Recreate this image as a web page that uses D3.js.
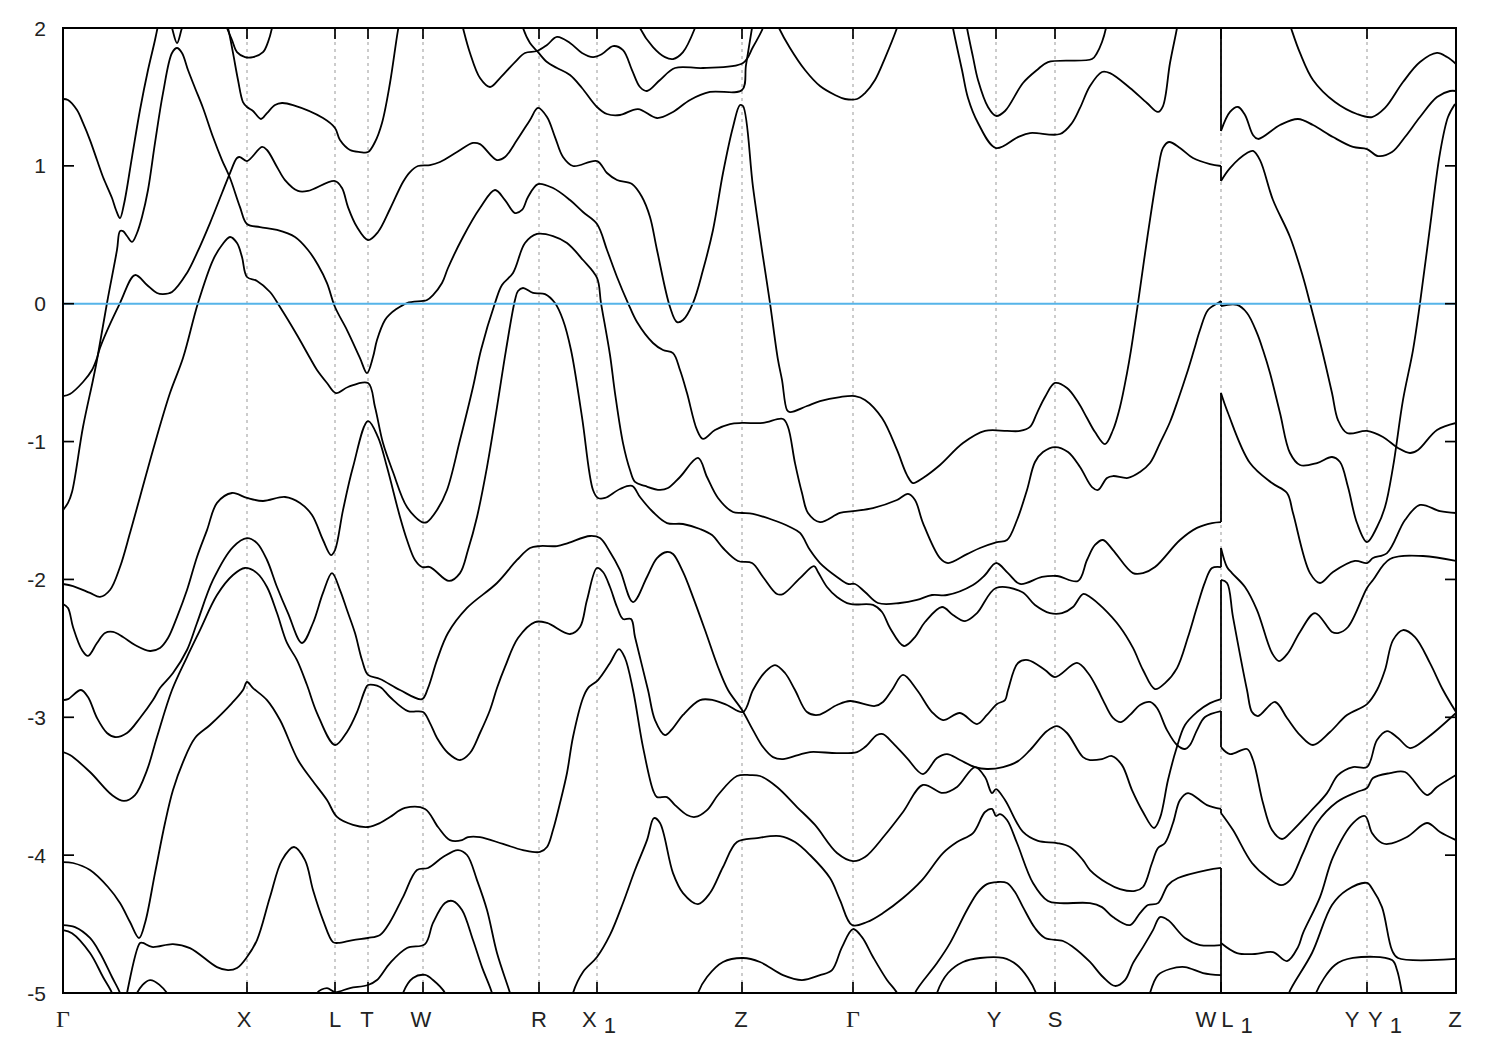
<!DOCTYPE html>
<html>
<head>
<meta charset="utf-8">
<style>html,body{margin:0;padding:0;background:#fff}svg{display:block}</style>
<script src="https://cdn.jsdelivr.net/npm/d3@7"></script>
</head>
<body>
<svg id="chart" width="1500" height="1050"></svg>
<script>
// Each band: [path position k, energy E]
const band1=[[0,1.485],[5,1.478],[14,1.405],[20,1.311],[27,1.187],[34,1.042],[40,0.919],[49,0.767],[53,0.68],[57,0.621],[61,0.723],[69,1.064],[77,1.405],[85,1.695],[92,1.913],[97,2.09]];
const band1b=[[105,2.09],[109,2],[114,1.891],[119,2],[124,2.09]];
const band2=[[0,-1.497],[5,-1.445],[9,-1.366],[20,-0.894],[30,-0.553],[34,-0.408],[44,0.005],[54,0.39],[57,0.527],[60,0.527],[64,0.491],[69,0.448],[74,0.513],[79,0.629],[85,0.825],[92,1.166],[100,1.528],[109,1.819],[114,1.855],[119,1.819],[125,1.695],[132,1.565],[140,1.42],[150,1.209],[159,1.042],[167,0.912],[177,0.701],[184,0.578],[197,0.556],[214,0.535],[232,0.484],[245,0.39],[255,0.281],[264,0.15],[272,-0.024],[284,-0.191],[297,-0.394],[304,-0.503],[310,-0.387],[314,-0.263],[322,-0.118],[327,-0.075],[332,-0.046],[344,0.005],[360,0.02],[364,0.027],[370,0.063],[379,0.15],[385,0.259],[400,0.484],[417,0.694],[432,0.825],[442,0.752],[452,0.658],[459,0.68],[465,0.774],[475,0.868],[490,0.839],[507,0.752],[520,0.665],[534,0.578],[544,0.39],[554,0.194],[565,0.005],[574,-0.133],[590,-0.285],[600,-0.336],[610,-0.358],[617,-0.481],[624,-0.648],[634,-0.916],[640,-0.981],[652,-0.916],[667,-0.873],[679,-0.865],[700,-0.865],[720,-0.836],[725,-0.894],[732,-1.156],[739,-1.373],[745,-1.518],[757,-1.584],[777,-1.518],[790,-1.504],[810,-1.482],[834,-1.424],[845,-1.38],[852,-1.424],[860,-1.591],[877,-1.845],[885,-1.881],[904,-1.816],[917,-1.772],[934,-1.729],[944,-1.714],[954,-1.569],[964,-1.351],[972,-1.148],[980,-1.076],[992,-1.04],[1005,-1.076],[1017,-1.185],[1029,-1.33],[1035,-1.351],[1044,-1.264],[1050,-1.25],[1065,-1.264],[1077,-1.221],[1087,-1.156],[1097,-1.011],[1107,-0.858],[1115,-0.698],[1124,-0.503],[1131,-0.336],[1137,-0.191],[1145,-0.046],[1155,0.005],[1158,0.02]];
const band3=[[0,-0.67],[7,-0.655],[20,-0.568],[29,-0.481],[34,-0.394],[37,-0.32],[57,0.005],[72,0.208],[84,0.136],[94,0.078],[100,0.07],[109,0.085],[124,0.223],[134,0.368],[147,0.585],[159,0.803],[167,0.948],[174,1.057],[177,1.064],[184,1.035],[199,1.137],[204,1.115],[214,0.992],[222,0.897],[235,0.818],[245,0.818],[272,0.89],[279,0.839],[285,0.701],[294,0.556],[305,0.462],[315,0.52],[327,0.687],[340,0.883],[347,0.955],[355,0.999],[367,1.006],[377,1.028],[394,1.1],[410,1.166],[417,1.158],[434,1.042],[442,1.064],[454,1.187],[467,1.333],[475,1.42],[484,1.354],[492,1.209],[500,1.064],[510,0.999],[534,1.035],[544,0.948],[554,0.897],[569,0.868],[579,0.774],[587,0.629],[594,0.39],[607,-0.024],[614,-0.133],[620,-0.118],[630,0.005],[640,0.244],[650,0.535],[660,0.948],[670,1.282],[677,1.441],[680,1.434],[690,0.846],[700,0.339],[707,0.005],[715,-0.408],[719,-0.553],[724,-0.771],[727,-0.786],[744,-0.742],[757,-0.706],[777,-0.677],[792,-0.67],[802,-0.698],[819,-0.829],[834,-1.061],[844,-1.243],[850,-1.301],[860,-1.264],[877,-1.17],[900,-1.011],[922,-0.923],[944,-0.923],[957,-0.923],[967,-0.894],[974,-0.793],[982,-0.677],[992,-0.575],[1004,-0.611],[1015,-0.713],[1024,-0.829],[1032,-0.931],[1042,-1.018],[1050,-0.916],[1057,-0.749],[1064,-0.503],[1068,-0.336],[1075,0.005],[1085,0.513],[1095,0.97],[1100,1.13],[1106,1.173],[1117,1.13],[1130,1.057],[1147,1.013],[1158,0.999]];
const band4=[[0,-2.033],[10,-2.048],[27,-2.098],[37,-2.127],[47,-2.077],[57,-1.91],[67,-1.663],[77,-1.402],[92,-1.01],[107,-0.648],[120,-0.394],[135,0.005],[150,0.317],[159,0.426],[167,0.484],[174,0.44],[179,0.339],[184,0.194],[194,0.165],[207,0.085],[217,-0.024],[234,-0.227],[247,-0.394],[254,-0.481],[264,-0.575],[273,-0.648],[285,-0.604],[305,-0.575],[312,-0.749],[320,-1.011],[330,-1.221],[344,-1.475],[359,-1.584],[364,-1.584],[374,-1.497],[384,-1.351],[397,-0.989],[410,-0.604],[418,-0.336],[432,0.005],[439,0.136],[450,0.223],[462,0.44],[474,0.506],[490,0.491],[504,0.44],[520,0.317],[534,0.187],[538,0.005],[547,-0.372],[552,-0.648],[560,-1.011],[567,-1.206],[572,-1.293],[582,-1.322],[597,-1.351],[605,-1.337],[617,-1.257],[635,-1.119],[644,-1.257],[655,-1.409],[670,-1.511],[679,-1.518],[690,-1.525],[710,-1.569],[727,-1.62],[737,-1.663],[747,-1.787],[757,-1.881],[774,-1.982],[785,-2.033],[792,-2.033],[802,-2.091],[815,-2.171],[837,-2.171],[854,-2.149],[869,-2.113],[884,-2.113],[910,-2.04],[922,-1.968],[933,-1.881],[945,-1.954],[957,-2.033],[979,-1.982],[994,-1.975],[1015,-2.011],[1024,-1.859],[1032,-1.75],[1040,-1.714],[1050,-1.787],[1070,-1.954],[1080,-1.954],[1092,-1.91],[1117,-1.714],[1134,-1.626],[1149,-1.591],[1158,-1.584]];
const band5=[[0,-2.178],[5,-2.207],[10,-2.345],[19,-2.512],[25,-2.555],[34,-2.461],[42,-2.389],[50,-2.381],[60,-2.418],[72,-2.476],[87,-2.519],[97,-2.497],[105,-2.425],[114,-2.273],[124,-2.077],[134,-1.837],[144,-1.642],[154,-1.445],[169,-1.373],[184,-1.409],[200,-1.431],[222,-1.402],[237,-1.445],[249,-1.533],[260,-1.714],[268,-1.823],[272,-1.787],[280,-1.497],[290,-1.185],[305,-0.851],[315,-0.967],[324,-1.185],[337,-1.547],[344,-1.714],[352,-1.859],[359,-1.91],[367,-1.91],[386,-2.011],[397,-1.954],[405,-1.787],[414,-1.547],[424,-1.185],[434,-0.75],[443,-0.336],[452,0.027],[455,0.092],[460,0.114],[470,0.078],[482,0.07],[492,0.005],[500,-0.118],[508,-0.336],[519,-0.822],[530,-1.351],[535,-1.409],[542,-1.409],[557,-1.344],[569,-1.322],[577,-1.402],[590,-1.511],[604,-1.591],[620,-1.598],[637,-1.634],[649,-1.678],[660,-1.772],[675,-1.866],[689,-1.881],[700,-1.982],[714,-2.106],[720,-2.106],[737,-1.99],[751,-1.903],[755,-1.946],[764,-2.055],[774,-2.127],[787,-2.178],[810,-2.185],[819,-2.236],[827,-2.352],[841,-2.483],[852,-2.418],[862,-2.309],[879,-2.2],[890,-2.258],[902,-2.302],[914,-2.244],[933,-2.062],[959,-2.091],[972,-2.185],[987,-2.244],[999,-2.244],[1010,-2.2],[1020,-2.106],[1027,-2.127],[1040,-2.207],[1057,-2.345],[1070,-2.497],[1080,-2.657],[1092,-2.795],[1102,-2.752],[1114,-2.643],[1125,-2.418],[1134,-2.2],[1142,-2.019],[1149,-1.917],[1158,-1.91]];
const band6=[[0,-2.875],[5,-2.868],[18,-2.802],[25,-2.853],[34,-3.005],[44,-3.114],[52,-3.143],[64,-3.114],[77,-3.005],[90,-2.875],[97,-2.788],[110,-2.679],[124,-2.512],[134,-2.316],[150,-2.004],[170,-1.765],[184,-1.7],[194,-1.736],[204,-1.859],[214,-2.055],[225,-2.244],[239,-2.461],[250,-2.316],[260,-2.098],[269,-1.954],[277,-2.077],[284,-2.222],[292,-2.389],[299,-2.585],[305,-2.693],[317,-2.722],[337,-2.802],[359,-2.868],[365,-2.788],[374,-2.585],[385,-2.389],[404,-2.207],[434,-2.026],[454,-1.859],[467,-1.772],[477,-1.758],[494,-1.758],[505,-1.736],[527,-1.685],[537,-1.7],[547,-1.801],[557,-1.932],[570,-2.164],[584,-1.982],[594,-1.845],[604,-1.801],[610,-1.816],[620,-1.946],[630,-2.128],[642,-2.367],[655,-2.635],[665,-2.802],[679,-2.947],[690,-3.093],[700,-3.216],[710,-3.289],[720,-3.303],[735,-3.274],[747,-3.252],[774,-3.26],[794,-3.252],[802,-3.216],[814,-3.129],[820,-3.122],[830,-3.187],[844,-3.296],[860,-3.412],[874,-3.296],[884,-3.267],[897,-3.31],[912,-3.361],[924,-3.375],[940,-3.361],[955,-3.318],[967,-3.238],[984,-3.1],[994,-3.064],[1004,-3.114],[1020,-3.289],[1027,-3.31],[1039,-3.303],[1049,-3.281],[1059,-3.347],[1069,-3.528],[1080,-3.687],[1091,-3.803],[1097,-3.73],[1105,-3.455],[1113,-3.238],[1122,-3.056],[1134,-2.962],[1147,-2.897],[1158,-2.868]];
const band7=[[0,-3.252],[7,-3.274],[27,-3.397],[49,-3.564],[61,-3.607],[72,-3.564],[84,-3.383],[94,-3.143],[109,-2.802],[124,-2.563],[137,-2.367],[154,-2.113],[170,-1.968],[182,-1.917],[194,-1.954],[204,-2.055],[214,-2.244],[224,-2.461],[234,-2.585],[244,-2.766],[254,-2.969],[272,-3.201],[284,-3.106],[294,-2.962],[302,-2.802],[305,-2.766],[317,-2.78],[327,-2.853],[345,-2.955],[360,-2.962],[367,-3.042],[374,-3.15],[385,-3.259],[397,-3.31],[407,-3.259],[417,-3.114],[427,-2.947],[434,-2.788],[442,-2.635],[455,-2.425],[472,-2.309],[484,-2.316],[507,-2.396],[517,-2.345],[524,-2.149],[534,-1.917],[540,-1.946],[547,-2.055],[554,-2.2],[560,-2.287],[568,-2.287],[572,-2.418],[585,-2.802],[592,-3.02],[602,-3.129],[610,-3.078],[620,-2.983],[637,-2.875],[650,-2.875],[664,-2.911],[680,-2.962],[690,-2.802],[702,-2.672],[712,-2.621],[722,-2.679],[732,-2.802],[744,-2.962],[755,-2.983],[774,-2.911],[787,-2.882],[812,-2.918],[820,-2.889],[829,-2.802],[840,-2.693],[854,-2.802],[869,-2.962],[880,-3.02],[897,-2.969],[914,-3.049],[924,-2.983],[934,-2.904],[942,-2.875],[945,-2.802],[955,-2.606],[965,-2.585],[982,-2.657],[992,-2.708],[1014,-2.606],[1025,-2.679],[1035,-2.802],[1040,-2.875],[1050,-3.005],[1058,-3.035],[1067,-2.983],[1077,-2.911],[1087,-2.889],[1094,-2.933],[1104,-3.093],[1114,-3.201],[1122,-3.23],[1127,-3.201],[1134,-3.093],[1142,-2.998],[1158,-2.955]];
const band8=[[0,-4.05],[10,-4.057],[27,-4.108],[45,-4.231],[57,-4.347],[67,-4.485],[76,-4.601],[82,-4.492],[92,-4.13],[102,-3.767],[110,-3.528],[120,-3.325],[132,-3.15],[147,-3.056],[169,-2.897],[180,-2.802],[184,-2.744],[190,-2.788],[204,-2.875],[217,-3.02],[235,-3.31],[249,-3.455],[264,-3.6],[274,-3.723],[290,-3.781],[305,-3.796],[317,-3.767],[327,-3.723],[342,-3.658],[362,-3.665],[375,-3.796],[387,-3.891],[399,-3.891],[405,-3.869],[417,-3.869],[440,-3.919],[460,-3.963],[477,-3.977],[484,-3.941],[490,-3.818],[497,-3.622],[504,-3.404],[510,-3.143],[520,-2.86],[525,-2.788],[535,-2.73],[547,-2.606],[556,-2.505],[562,-2.57],[570,-2.802],[580,-3.216],[590,-3.528],[594,-3.579],[604,-3.579],[612,-3.637],[624,-3.709],[632,-3.723],[644,-3.673],[655,-3.564],[674,-3.426],[687,-3.419],[697,-3.426],[714,-3.506],[734,-3.651],[752,-3.781],[774,-3.984],[790,-4.043],[802,-4.014],[822,-3.854],[840,-3.687],[860,-3.491],[880,-3.549],[894,-3.506],[912,-3.361],[922,-3.434],[929,-3.55],[933,-3.521],[942,-3.6],[960,-3.832],[975,-3.897],[994,-3.912],[1007,-3.941],[1020,-4.036],[1027,-4.108],[1044,-4.202],[1057,-4.246],[1072,-4.26],[1080,-4.231],[1089,-4.057],[1095,-3.948],[1102,-3.912],[1110,-3.767],[1117,-3.6],[1125,-3.55],[1144,-3.637],[1158,-3.665]];
const band9=[[0,-4.507],[12,-4.522],[27,-4.601],[37,-4.71],[49,-4.884],[57,-5],[60,-5.08]];
const band10=[[0,-4.544],[9,-4.566],[27,-4.71],[40,-4.884],[49,-5],[52,-5.08]];
const band11=[[62,-5.08],[64,-5],[77,-4.637],[80,-4.637],[89,-4.666],[110,-4.645],[127,-4.674],[154,-4.812],[165,-4.834],[174,-4.819],[184,-4.739],[194,-4.616],[207,-4.304],[219,-4.036],[231,-3.941],[242,-4.036],[250,-4.253],[260,-4.471],[270,-4.631],[275,-4.637],[290,-4.616],[305,-4.601],[317,-4.579],[327,-4.485],[340,-4.304],[354,-4.108],[365,-4.093],[380,-4.014],[395,-3.963],[404,-3.999],[414,-4.181],[424,-4.398],[434,-4.71],[447,-5],[450,-5.08]];
const band12=[[252,-5.08],[254,-5],[264,-4.964],[272,-4.993],[287,-4.964],[305,-4.942],[314,-4.906],[327,-4.783],[344,-4.674],[362,-4.645],[370,-4.492],[382,-4.347],[390,-4.333],[399,-4.398],[410,-4.616],[419,-4.812],[429,-5],[431,-5.08]];
const band12b=[[338,-5.08],[340,-5],[350,-4.891],[362,-4.869],[370,-4.906],[382,-5],[385,-5.08]];
const band12c=[[72,-5.08],[74,-5],[87,-4.906],[104,-5],[107,-5.08]];
const band13=[[508,-5.08],[510,-5],[520,-4.848],[534,-4.739],[547,-4.579],[560,-4.347],[572,-4.108],[584,-3.891],[591,-3.731],[597,-3.767],[610,-4.13],[620,-4.275],[635,-4.355],[647,-4.275],[660,-4.086],[674,-3.905],[694,-3.876],[717,-3.862],[732,-3.905],[747,-3.999],[767,-4.166],[777,-4.326],[789,-4.507],[804,-4.485],[820,-4.42],[840,-4.311],[859,-4.181],[880,-3.985],[894,-3.905],[910,-3.84],[922,-3.687],[929,-3.665],[933,-3.716],[937,-3.702],[944,-3.745],[954,-3.912],[970,-4.202],[985,-4.333],[997,-4.348],[1027,-4.348],[1039,-4.377],[1050,-4.449],[1067,-4.507],[1077,-4.42],[1085,-4.362],[1095,-4.348],[1105,-4.217],[1115,-4.166],[1144,-4.108],[1158,-4.093]];
const band14=[[633,-5.08],[635,-5],[644,-4.884],[660,-4.775],[680,-4.746],[697,-4.775],[720,-4.87],[739,-4.906],[757,-4.87],[769,-4.834],[779,-4.667],[790,-4.536],[799,-4.595],[810,-4.739],[824,-4.906],[834,-5],[837,-5.08]];
const band15=[[850,-5.08],[852,-5],[874,-4.783],[887,-4.638],[904,-4.398],[915,-4.268],[924,-4.21],[934,-4.195],[944,-4.202],[952,-4.268],[960,-4.377],[972,-4.529],[982,-4.601],[1000,-4.623],[1010,-4.666],[1027,-4.775],[1040,-4.884],[1052,-4.949],[1062,-4.906],[1070,-4.783],[1080,-4.667],[1090,-4.544],[1097,-4.449],[1105,-4.471],[1122,-4.601],[1137,-4.652],[1158,-4.652]];
const band16=[[872,-5.08],[874,-5],[885,-4.855],[900,-4.775],[917,-4.746],[940,-4.746],[954,-4.797],[965,-4.891],[973,-5],[976,-5.08]];
const band17=[[1085,-5.08],[1087,-5],[1095,-4.87],[1107,-4.826],[1122,-4.812],[1140,-4.855],[1158,-4.87]];
const top1=[[161,2.09],[165,2],[170,1.819],[175,1.623],[180,1.463],[184,1.427],[190,1.398],[198,1.34],[204,1.383],[212,1.441],[219,1.456],[230,1.441],[260,1.347],[272,1.275],[277,1.187],[287,1.115],[297,1.1],[305,1.1],[312,1.173],[319,1.311],[327,1.601],[335,1.985],[338,2.09]];
const top2=[[160,2.09],[164,2],[169,1.913],[174,1.825],[182,1.789],[190,1.789],[200,1.825],[205,1.898],[209,2],[211,2.09]];
const top3=[[457,2.09],[460,2],[467,1.891],[475,1.825],[484,1.753],[494,1.71],[507,1.659],[519,1.565],[534,1.427],[544,1.376],[557,1.369],[575,1.412],[594,1.347],[610,1.391],[627,1.478],[647,1.536],[679,1.55],[683,1.731],[689,2],[691,2.09]];
const top4=[[397,2.09],[400,2],[407,1.819],[417,1.637],[427,1.572],[437,1.637],[452,1.753],[462,1.819],[474,1.833],[484,1.877],[494,1.935],[507,1.891],[519,1.819],[530,1.789],[539,1.811],[550,1.869],[560,1.84],[569,1.695],[577,1.572],[584,1.543],[597,1.623],[612,1.71],[640,1.71],[680,1.746],[690,1.862],[700,2],[704,2.09]];
const top5=[[573,2.09],[577,2],[590,1.862],[602,1.789],[610,1.775],[620,1.825],[632,2],[636,2.09]];
const top6=[[711,2.09],[716,2],[727,1.855],[742,1.695],[757,1.579],[772,1.514],[782,1.485],[794,1.485],[802,1.528],[812,1.623],[822,1.782],[834,2],[838,2.09]];
const top7=[[888,2.09],[890,2],[899,1.695],[905,1.492],[915,1.311],[933,1.129],[955,1.209],[967,1.238],[997,1.231],[1009,1.311],[1017,1.42],[1027,1.579],[1039,1.681],[1047,1.673],[1067,1.565],[1084,1.456],[1095,1.391],[1100,1.434],[1107,1.746],[1114,2],[1116,2.09]];
const top8=[[902,2.09],[904,2],[910,1.789],[915,1.623],[925,1.427],[933,1.362],[942,1.398],[960,1.601],[974,1.695],[985,1.753],[1029,1.775],[1034,1.819],[1039,1.898],[1043,2],[1045,2.09]];
const right1=[[1158,1.253],[1167,1.391],[1175,1.427],[1182,1.369],[1190,1.224],[1195,1.195],[1217,1.296],[1235,1.34],[1250,1.296],[1270,1.209],[1290,1.137],[1304,1.122],[1315,1.071],[1329,1.1],[1342,1.209],[1357,1.354],[1374,1.499],[1387,1.543],[1393,1.543]];
const right2=[[1224,2.09],[1228,2],[1237,1.819],[1250,1.623],[1272,1.463],[1294,1.376],[1309,1.354],[1322,1.42],[1340,1.608],[1357,1.753],[1374,1.819],[1384,1.789],[1393,1.739]];
const right3=[[1158,0.89],[1167,0.984],[1184,1.093],[1190,1.108],[1197,1.042],[1210,0.752],[1227,0.484],[1240,0.194],[1247,0.005],[1259,-0.336],[1269,-0.648],[1275,-0.844],[1284,-0.938],[1304,-0.923],[1320,-0.967],[1335,-1.047],[1347,-1.083],[1355,-1.061],[1374,-0.916],[1393,-0.865]];
const right4=[[1158,-0.017],[1174,-0.009],[1184,-0.067],[1194,-0.213],[1200,-0.336],[1207,-0.503],[1217,-0.793],[1227,-1.083],[1237,-1.17],[1254,-1.156],[1269,-1.112],[1277,-1.148],[1285,-1.33],[1294,-1.591],[1304,-1.729],[1314,-1.62],[1322,-1.475],[1330,-1.185],[1340,-0.698],[1350,-0.336],[1357,0.005],[1367,0.556],[1377,1.093],[1385,1.354],[1392,1.449]];
const right5=[[1158,-0.648],[1165,-0.793],[1187,-1.156],[1209,-1.301],[1224,-1.373],[1230,-1.518],[1247,-1.954],[1257,-2.026],[1270,-1.946],[1292,-1.866],[1304,-1.881],[1310,-1.845],[1324,-1.809],[1342,-1.569],[1357,-1.46],[1377,-1.504],[1393,-1.518]];
const right6=[[1158,-1.772],[1164,-1.91],[1169,-1.954],[1182,-2.055],[1194,-2.222],[1209,-2.534],[1216,-2.592],[1225,-2.534],[1237,-2.381],[1252,-2.244],[1269,-2.381],[1275,-2.389],[1285,-2.345],[1304,-2.062],[1310,-2.004],[1327,-1.852],[1360,-1.83],[1393,-1.866]];
const right7=[[1158,-2.004],[1164,-2.026],[1170,-2.273],[1184,-2.802],[1189,-2.962],[1195,-2.991],[1212,-2.889],[1224,-3.005],[1237,-3.129],[1250,-3.201],[1267,-3.107],[1284,-2.984],[1304,-2.904],[1314,-2.802],[1322,-2.657],[1330,-2.44],[1340,-2.367],[1352,-2.418],[1367,-2.607],[1380,-2.802],[1393,-2.962]];
const right8=[[1158,-3.216],[1167,-3.267],[1184,-3.23],[1190,-3.31],[1200,-3.622],[1209,-3.818],[1219,-3.883],[1230,-3.818],[1247,-3.687],[1264,-3.55],[1275,-3.419],[1290,-3.361],[1304,-3.361],[1314,-3.165],[1324,-3.1],[1335,-3.15],[1347,-3.223],[1364,-3.15],[1393,-2.969]];
const right9=[[1158,-3.694],[1170,-3.818],[1189,-4.057],[1204,-4.159],[1218,-4.217],[1227,-4.181],[1240,-3.985],[1254,-3.767],[1274,-3.615],[1294,-3.542],[1304,-3.513],[1310,-3.441],[1327,-3.405],[1342,-3.397],[1364,-3.564],[1374,-3.506],[1393,-3.419]];
const right10=[[1158,-4.637],[1174,-4.71],[1192,-4.717],[1210,-4.703],[1224,-4.768],[1235,-4.667],[1240,-4.565],[1257,-4.304],[1270,-4.014],[1290,-3.767],[1302,-3.716],[1309,-3.839],[1319,-3.912],[1325,-3.919],[1344,-3.868],[1364,-3.767],[1377,-3.832],[1393,-3.891]];
const right11=[[1224,-5.08],[1226,-5],[1249,-4.71],[1269,-4.362],[1284,-4.253],[1304,-4.202],[1310,-4.253],[1319,-4.377],[1329,-4.689],[1335,-4.746],[1393,-4.753]];
const right12=[[1251,-5.08],[1253,-5],[1272,-4.797],[1290,-4.746],[1329,-4.761],[1334,-4.833],[1339,-5],[1341,-5.08]];
// Energy jumps where the path breaks between W and L1
const breakJumps=[[2,1.253],[0.999,0.89],[0.02,-0.017],[-1.584,-0.648],[-1.91,-1.772],[-2.868,-2.004],[-2.955,-3.216],[-3.665,-3.694],[-4.093,-5]];
const breakK=1158;
const kMax=1393;
const energyTicks=[2,1,0,-1,-2,-3,-4,-5];
const pathK=[0,184,272,305,360,476,534,679,790,933,992,1158,1304,1393];
const pathLabels=["Γ","X","L","T","W","R","X1","Z","Γ","Y","S","W","L1","Y","Y1","Z"];
const pathLabelK=[0,184,272,305,360,476,534,679,790,933,992,1158,1158,1304,1304,1393];

const bands=[band1,band1b,band2,band3,band4,band5,band6,band7,band8,band9,band10,band11,band12,band12b,band12c,band13,band14,band15,band16,band17,top1,top2,top3,top4,top5,top6,top7,top8,right1,right2,right3,right4,right5,right6,right7,right8,right9,right10,right11,right12];

const plot={l:63,r:1456,t:28,b:993};
const x=d3.scaleLinear().domain([0,kMax]).range([plot.l,plot.r]);
const y=d3.scaleLinear().domain([-5,2]).range([plot.b,plot.t]);
const svg=d3.select("#chart");
const font="'Liberation Sans',Arial,sans-serif";

svg.append("defs").append("clipPath").attr("id","plotClip").append("rect")
  .attr("x",plot.l).attr("y",plot.t).attr("width",plot.r-plot.l).attr("height",plot.b-plot.t);

// dashed verticals
svg.append("g").selectAll("line").data(pathK.slice(1,-1)).join("line")
  .attr("x1",d=>x(d)).attr("x2",d=>x(d)).attr("y1",plot.t).attr("y2",plot.b)
  .attr("stroke","#999").attr("stroke-width",1).attr("stroke-dasharray","3,4");

// bands
const line=d3.line().x(d=>x(d[0])).y(d=>y(d[1])).curve(d3.curveCatmullRom.alpha(0.5));
const g=svg.append("g").attr("clip-path","url(#plotClip)");
g.selectAll("path").data(bands).join("path")
  .attr("d",line).attr("fill","none").attr("stroke","#000").attr("stroke-width",1.8)
  .attr("stroke-linejoin","round");
g.append("g").selectAll("line").data(breakJumps).join("line")
  .attr("x1",x(breakK)).attr("x2",x(breakK)).attr("y1",d=>y(d[0])).attr("y2",d=>y(d[1]))
  .attr("stroke","#000").attr("stroke-width",1.8);

// zero line
svg.append("line").attr("x1",x(0)).attr("x2",x(kMax)).attr("y1",y(0)).attr("y2",y(0))
  .attr("stroke","#56b4e9").attr("stroke-width",2);

// ticks
const tickLen=11;
const ty=svg.append("g");
energyTicks.forEach(v=>{
  ty.append("line").attr("x1",plot.l).attr("x2",plot.l+tickLen).attr("y1",y(v)).attr("y2",y(v)).attr("stroke","#000").attr("stroke-width",1.7);
  ty.append("line").attr("x1",plot.r-tickLen).attr("x2",plot.r).attr("y1",y(v)).attr("y2",y(v)).attr("stroke","#000").attr("stroke-width",1.7);
  ty.append("text").attr("x",46).attr("y",y(v)+7.5).attr("text-anchor","end")
    .attr("font-family",font).attr("font-size",21).attr("fill","#222").text(v);
});
const tx=svg.append("g");
pathK.forEach(k=>{
  tx.append("line").attr("x1",x(k)).attr("x2",x(k)).attr("y1",plot.t).attr("y2",plot.t+tickLen).attr("stroke","#000").attr("stroke-width",1.7);
  tx.append("line").attr("x1",x(k)).attr("x2",x(k)).attr("y1",plot.b-tickLen).attr("y2",plot.b).attr("stroke","#000").attr("stroke-width",1.7);
});
const labelShift=[0,-3,0,-1,-2,0,2,-1,0,-2,0,-15,16,-15,18,-1];
pathLabels.forEach((name,i)=>{
  const isGreek=name==="Γ";
  const t=tx.append("text").attr("x",x(pathLabelK[i])+labelShift[i]).attr("y",1027).attr("text-anchor","middle")
    .attr("font-family",isGreek?"'Liberation Serif',serif":font).attr("font-size",isGreek?24:22).attr("fill","#222");
  if(name.endsWith("1")){
    t.append("tspan").text(name[0]);
    t.append("tspan").attr("dx",7).attr("dy",6).text("1");
  } else t.text(name);
});

// frame
svg.append("rect").attr("x",plot.l).attr("y",plot.t).attr("width",plot.r-plot.l).attr("height",plot.b-plot.t)
  .attr("fill","none").attr("stroke","#000").attr("stroke-width",2);
</script>
</body>
</html>
